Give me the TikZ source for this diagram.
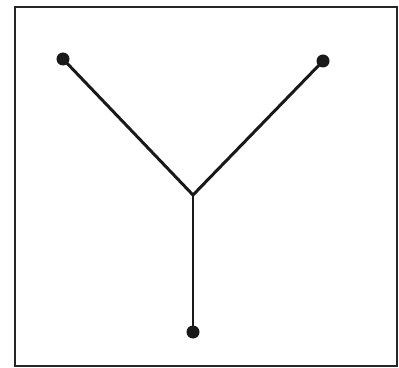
\documentclass[tikz,border=0pt]{standalone}
\begin{document}
\begin{tikzpicture}[x=0.02cm,y=-0.02cm,
  edge/.style={line width=1.7pt,black!90},
  dot/.style={circle,fill=black!90,inner sep=0pt,minimum size=7.4pt}]
\useasboundingbox (0,0) rectangle (399,368);
\draw[line width=1.7pt,black!85] (15,7) rectangle (397,366);
\node[dot] (a) at (63,59) {};
\node[dot] (b) at (323,61) {};
\node[dot] (c) at (193,332) {};
\coordinate (j) at (193,195);
\draw[edge] (a.center) -- (j) -- (b.center);
\draw[edge] (j) -- (c.center);
\end{tikzpicture}
\end{document}
